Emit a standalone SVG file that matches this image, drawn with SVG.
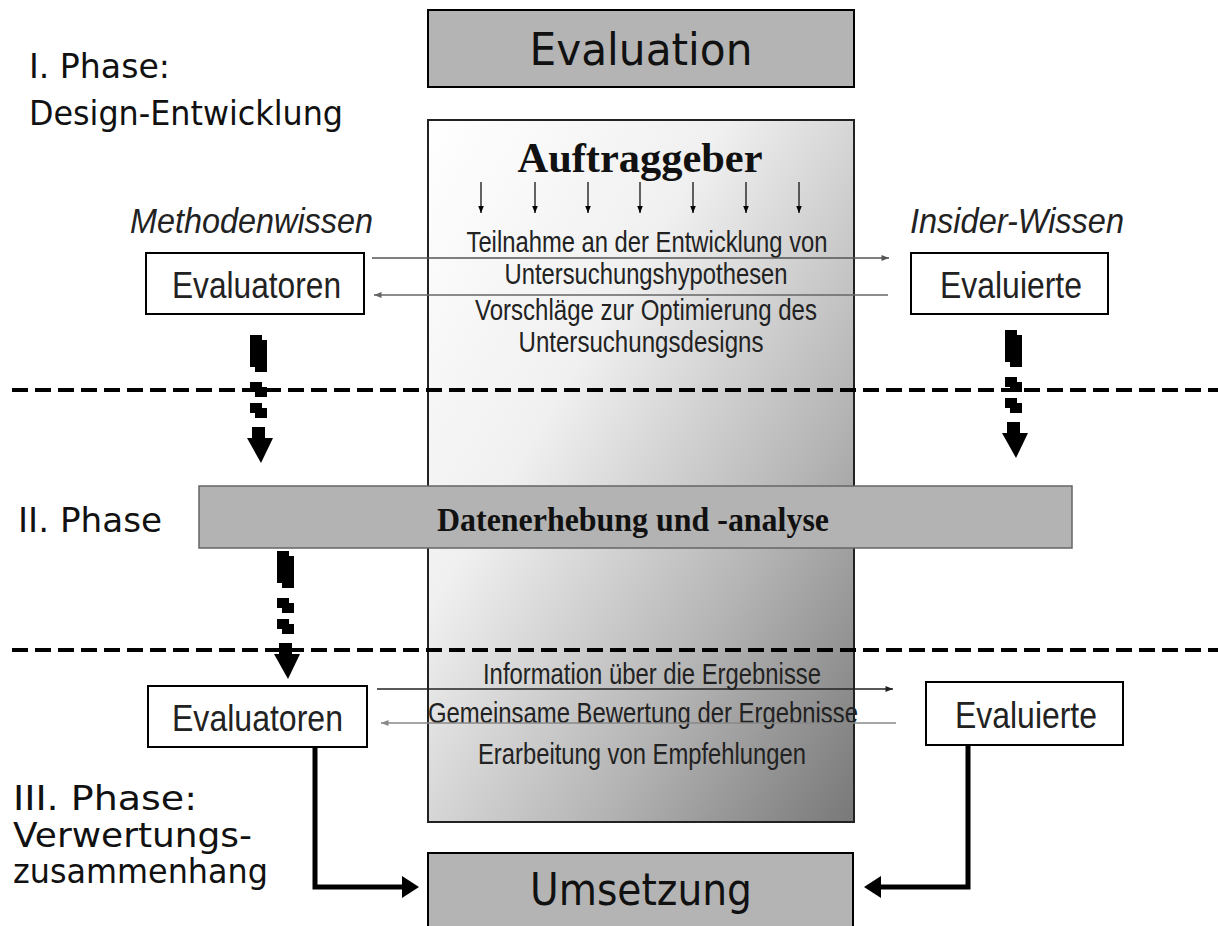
<svg xmlns="http://www.w3.org/2000/svg" width="1218" height="926" viewBox="0 0 1218 926">
<defs>
<linearGradient id="bg" x1="0" y1="0" x2="1" y2="1">
<stop offset="0" stop-color="#ffffff"/>
<stop offset="0.35" stop-color="#f0f0f0"/>
<stop offset="0.7" stop-color="#b4b4b4"/>
<stop offset="1" stop-color="#787878"/>
</linearGradient>
<marker id="ah" viewBox="0 0 10 8" refX="10" refY="4" markerWidth="9" markerHeight="6" markerUnits="userSpaceOnUse" orient="auto">
<path d="M0,0 L10,4 L0,8 Z" fill="context-stroke"/>
</marker>
<marker id="ahs" viewBox="0 0 10 8" refX="10" refY="4" markerWidth="7" markerHeight="6" markerUnits="userSpaceOnUse" orient="auto">
<path d="M0,0 L10,4 L0,8 Z" fill="#000"/>
</marker>
<g id="dashArrow">
<rect x="0" y="0" width="12" height="32"/>
<rect x="5" y="5" width="12" height="32"/>
<rect x="0" y="47" width="12" height="10"/>
<rect x="5" y="52" width="12" height="10"/>
<rect x="0" y="68" width="12" height="10"/>
<rect x="5" y="73" width="12" height="10"/>
<rect x="2" y="92" width="13" height="12"/>
<polygon points="-3,103 23,103 11,128"/>
</g>
</defs>
<style>
.box{fill:#ffffff;stroke:#000;stroke-width:2}
.gray{fill:#b4b4b4;stroke:#000;stroke-width:2}
.tah{font-family:"DejaVu Sans",Verdana,sans-serif;fill:#111}
.nar{font-family:"Liberation Sans",Arial,sans-serif;fill:#222}
.ser{font-family:"Liberation Serif","Times New Roman",serif;font-weight:bold;fill:#111}
.dash{stroke:#000;stroke-width:4;stroke-dasharray:16 7;fill:none}
.thin{fill:none;stroke-width:1.6}
.thick{fill:none;stroke:#000;stroke-width:5}
</style>
<rect width="1218" height="926" fill="#ffffff"/>

<g id="phase-labels">
<text class="tah" x="29" y="78" font-size="34" textLength="141" lengthAdjust="spacingAndGlyphs">I. Phase:</text>
<text class="tah" x="29" y="125" font-size="34" textLength="314" lengthAdjust="spacingAndGlyphs">Design-Entwicklung</text>
<text class="tah" x="18" y="532" font-size="34" textLength="144" lengthAdjust="spacingAndGlyphs">II. Phase</text>
<text class="tah" x="13" y="810" font-size="33" textLength="184" lengthAdjust="spacingAndGlyphs">III. Phase:</text>
<text class="tah" x="13" y="847" font-size="33" textLength="239" lengthAdjust="spacingAndGlyphs">Verwertungs-</text>
<text class="tah" x="13" y="883" font-size="33" textLength="255" lengthAdjust="spacingAndGlyphs">zusammenhang</text>
</g>

<g id="evaluation">
<rect class="gray" x="428" y="10" width="426" height="77"/>
<text class="tah" x="641" y="65" font-size="44" text-anchor="middle" textLength="223" lengthAdjust="spacingAndGlyphs">Evaluation</text>
</g>

<g id="auftraggeber">
<rect x="428" y="120" width="426" height="702" fill="url(#bg)" stroke="#222" stroke-width="2"/>
<text class="ser" x="640" y="172" font-size="42" text-anchor="middle" textLength="245" lengthAdjust="spacingAndGlyphs">Auftraggeber</text>
<g stroke="#111" stroke-width="1.3" marker-end="url(#ahs)">
<line x1="481" y1="182" x2="481" y2="213"/>
<line x1="535" y1="182" x2="535" y2="213"/>
<line x1="588" y1="182" x2="588" y2="213"/>
<line x1="640" y1="182" x2="640" y2="213"/>
<line x1="693" y1="182" x2="693" y2="213"/>
<line x1="746" y1="182" x2="746" y2="213"/>
<line x1="799" y1="182" x2="799" y2="213"/>
</g>
<text class="nar" x="647" y="252" font-size="30" text-anchor="middle" textLength="361" lengthAdjust="spacingAndGlyphs">Teilnahme an der Entwicklung von</text>
<text class="nar" x="646" y="284" font-size="30" text-anchor="middle" textLength="283" lengthAdjust="spacingAndGlyphs">Untersuchungshypothesen</text>
<text class="nar" x="646" y="320" font-size="30" text-anchor="middle" textLength="342" lengthAdjust="spacingAndGlyphs">Vorschläge zur Optimierung des</text>
<text class="nar" x="641" y="352" font-size="30" text-anchor="middle" textLength="245" lengthAdjust="spacingAndGlyphs">Untersuchungsdesigns</text>
<text class="nar" x="652" y="684" font-size="30" text-anchor="middle" textLength="338" lengthAdjust="spacingAndGlyphs">Information über die Ergebnisse</text>
<text class="nar" x="643" y="723" font-size="30" text-anchor="middle" textLength="430" lengthAdjust="spacingAndGlyphs">Gemeinsame Bewertung der Ergebnisse</text>
<text class="nar" x="642" y="764" font-size="30" text-anchor="middle" textLength="328" lengthAdjust="spacingAndGlyphs">Erarbeitung von Empfehlungen</text>
</g>

<g id="methodenwissen">
<text class="nar" x="130" y="233" font-size="35" font-style="italic" fill="#111" textLength="243" lengthAdjust="spacingAndGlyphs">Methodenwissen</text>
</g>
<g id="insider-wissen">
<text class="nar" x="910" y="233" font-size="35" font-style="italic" fill="#111" textLength="214" lengthAdjust="spacingAndGlyphs">Insider-Wissen</text>
</g>

<g id="evaluatoren-1">
<rect class="box" x="146" y="253" width="218" height="61"/>
<text class="nar" x="172" y="298" font-size="36" fill="#111" textLength="169" lengthAdjust="spacingAndGlyphs">Evaluatoren</text>
</g>
<g id="evaluierte-1">
<rect class="box" x="911" y="253" width="197" height="61"/>
<text class="nar" x="940" y="298" font-size="36" fill="#111" textLength="142" lengthAdjust="spacingAndGlyphs">Evaluierte</text>
</g>

<g id="datenerhebung">
<rect fill="#b3b3b3" stroke="#666" stroke-width="1.5" x="199" y="486" width="873" height="62"/>
<text class="ser" x="633" y="531" font-size="33" text-anchor="middle" textLength="392" lengthAdjust="spacingAndGlyphs">Datenerhebung und -analyse</text>
</g>

<g id="evaluatoren-2">
<rect class="box" x="148" y="686" width="219" height="61"/>
<text class="nar" x="172" y="731" font-size="36" fill="#111" textLength="171" lengthAdjust="spacingAndGlyphs">Evaluatoren</text>
</g>
<g id="evaluierte-2">
<rect class="box" x="926" y="682" width="197" height="63"/>
<text class="nar" x="955" y="728" font-size="36" fill="#111" textLength="142" lengthAdjust="spacingAndGlyphs">Evaluierte</text>
</g>

<g id="umsetzung">
<rect class="gray" x="428" y="853" width="425" height="80"/>
<text class="tah" x="641" y="905" font-size="44" text-anchor="middle" textLength="222" lengthAdjust="spacingAndGlyphs">Umsetzung</text>
</g>

<g id="connectors">
<line class="dash" x1="12" y1="390" x2="1218" y2="390"/>
<line class="dash" x1="12" y1="650" x2="1218" y2="650"/>
<line class="thin" stroke="#555" x1="372" y1="258" x2="889" y2="258" marker-end="url(#ah)"/>
<line class="thin" stroke="#666" x1="888" y1="295" x2="374" y2="295" marker-end="url(#ah)"/>
<line class="thin" stroke="#222" x1="377" y1="689" x2="893" y2="689" marker-end="url(#ah)"/>
<line class="thin" stroke="#888" x1="896" y1="723" x2="381" y2="723" marker-end="url(#ah)"/>
<use href="#dashArrow" x="250" y="335"/>
<use href="#dashArrow" x="1005" y="330"/>
<use href="#dashArrow" x="277" y="551"/>
<path class="thick" d="M315,747 V887 H404"/>
<polygon points="402,876 419,887 402,898" fill="#000"/>
<path class="thick" d="M968,745 V887 H879"/>
<polygon points="881,876 864,887 881,898" fill="#000"/>
</g>
</svg>
